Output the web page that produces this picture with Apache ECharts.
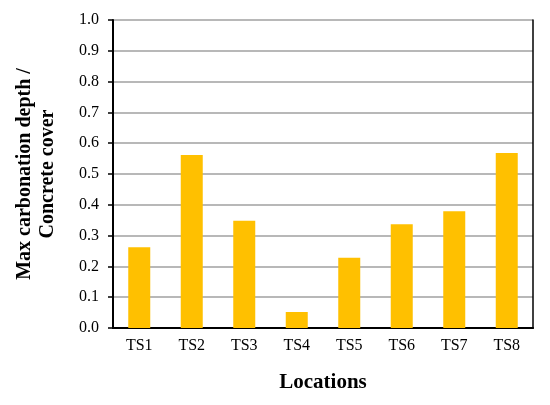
<!DOCTYPE html>
<html><head><meta charset="utf-8">
<script src="https://cdn.jsdelivr.net/npm/echarts@6/dist/echarts.min.js"></script>
<style>html,body{margin:0;padding:0;background:#fff}#c{width:550px;height:405px}</style>
</head><body><div id="c"></div>
<script>
const categories = ['TS1','TS2','TS3','TS4','TS5','TS6','TS7','TS8'];
const values = [0.262, 0.562, 0.348, 0.052, 0.228, 0.337, 0.379, 0.568];
const yTicks = { min: 0, max: 1.0, interval: 0.1 };
const xTitle = 'Locations';
const yTitle = 'Max carbonation depth /\nConcrete cover';

const font = 'Liberation Serif';
const chart = echarts.init(document.getElementById('c'));
chart.setOption({
  animation: false,
  grid: { left: 113, right: 17, top: 20, bottom: 77 },
  xAxis: [{
    type: 'category', data: categories, position: 'bottom',
    axisLine: { lineStyle: { color: '#000', width: 2 } },
    axisTick: { show: false },
    axisLabel: { color: '#000', fontFamily: font, fontSize: 16, margin: 10 },
    name: xTitle, nameLocation: 'middle', nameGap: 44,
    nameTextStyle: { color: '#000', fontFamily: font, fontSize: 21, fontWeight: 'bold' }
  }, {
    type: 'category', data: categories, position: 'top',
    axisLine: { lineStyle: { color: '#000', width: 1.5 } },
    axisTick: { show: false }, axisLabel: { show: false }
  }],
  yAxis: [{
    type: 'value', min: yTicks.min, max: yTicks.max, interval: yTicks.interval,
    axisLine: { show: true, lineStyle: { color: '#000', width: 2 } },
    axisTick: { show: true, length: 5, lineStyle: { color: '#000', width: 1.5 } },
    axisLabel: { color: '#000', fontFamily: font, fontSize: 16, margin: 14,
      formatter: v => v.toFixed(1) },
    splitLine: { show: true, lineStyle: { color: '#A0A0A0', width: 1.5 } },
    name: yTitle, nameLocation: 'middle', nameGap: 54,
    nameTextStyle: { color: '#000', fontFamily: font, fontSize: 20, fontWeight: 'bold', lineHeight: 23, align: 'center' }
  }, {
    type: 'value', min: yTicks.min, max: yTicks.max, interval: yTicks.interval, position: 'right',
    axisLine: { show: true, lineStyle: { color: '#000', width: 1.5 } },
    axisTick: { show: false }, axisLabel: { show: false }, splitLine: { show: false }
  }],
  series: [{
    type: 'bar', data: values, barWidth: 22, xAxisIndex: 0, yAxisIndex: 0,
    itemStyle: { color: '#FFC000' }
  }]
});
</script></body></html>
